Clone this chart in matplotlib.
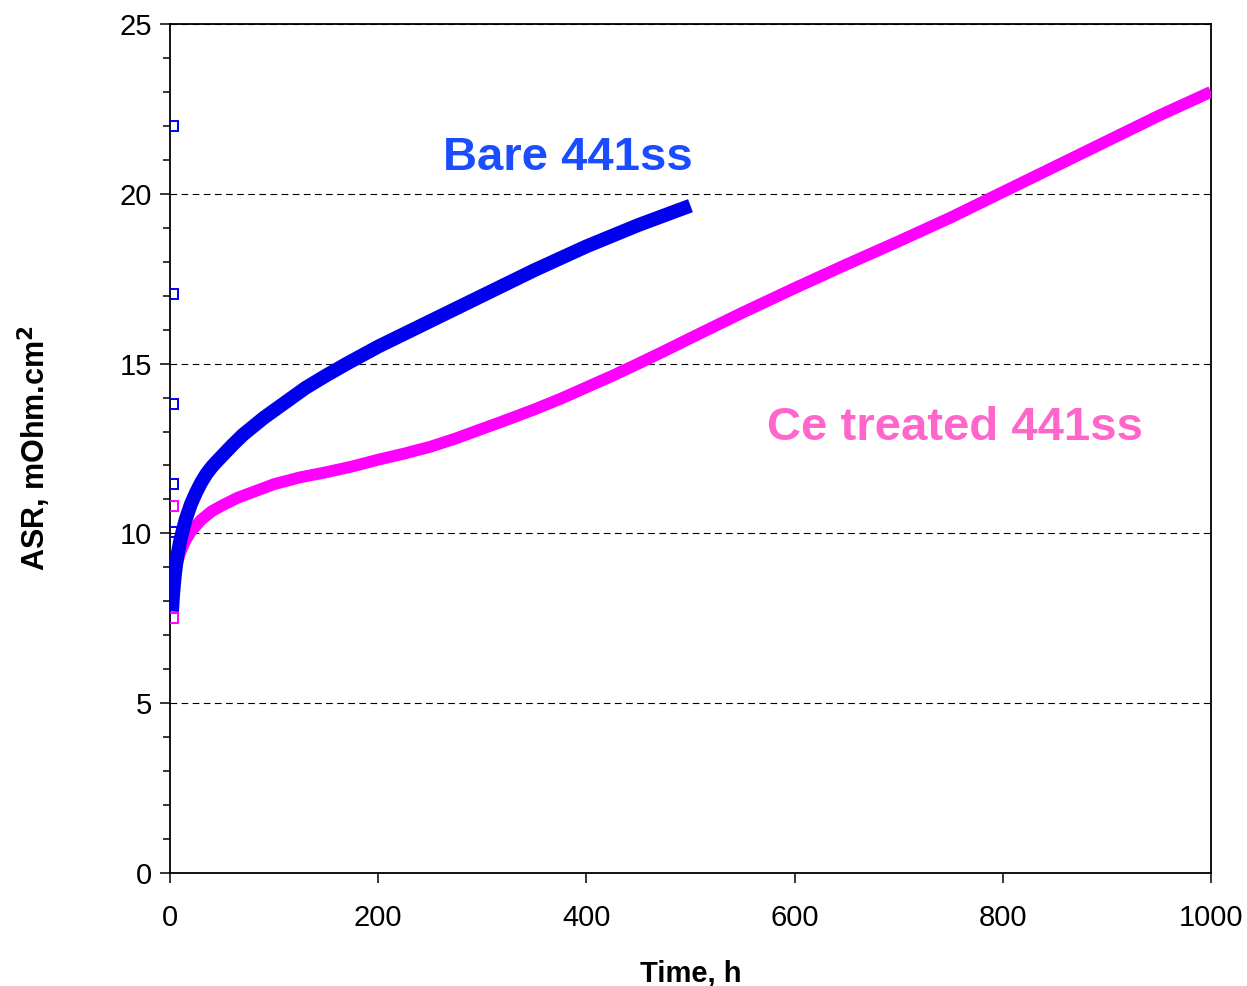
import matplotlib.pyplot as plt
from matplotlib.ticker import MultipleLocator

plt.rcParams['font.family'] = ['Liberation Sans', 'DejaVu Sans']

# Bare 441ss
t_bare = [2, 3, 4, 5, 6, 8, 10, 12, 15, 20, 25, 30, 35, 40, 45, 50, 60, 70,
          80, 90, 100, 115, 130, 150, 170, 200, 250, 300, 350, 400, 450, 500]
asr_bare = [7.7, 8.2, 8.55, 8.85, 9.1, 9.5, 9.8, 10.05, 10.4, 10.85, 11.2,
            11.5, 11.75, 11.95, 12.12, 12.28, 12.6, 12.9, 13.15, 13.4, 13.62,
            13.95, 14.28, 14.65, 15.0, 15.5, 16.25, 17.0, 17.75, 18.45, 19.08,
            19.65]

# Ce treated 441ss
t_ce = [2, 5, 10, 15, 20, 30, 40, 50, 65, 80, 100, 125, 150, 175, 200, 225,
        250, 275, 300, 325, 350, 375, 400, 425, 450, 475, 500, 550, 600, 650,
        700, 750, 800, 850, 900, 950, 1000]
asr_ce = [8.6, 8.95, 9.45, 9.8, 10.05, 10.4, 10.65, 10.82, 11.05, 11.22,
          11.45, 11.65, 11.8, 11.97, 12.17, 12.35, 12.55, 12.8, 13.08, 13.36,
          13.65, 13.96, 14.3, 14.64, 15.0, 15.37, 15.75, 16.5, 17.22, 17.92,
          18.6, 19.3, 20.05, 20.8, 21.55, 22.3, 23.0]

# isolated start points
t_pts_bare = [2.5, 2.5, 2.5, 2.5, 2.5, 2.5]
asr_pts_bare = [22.0, 17.05, 13.8, 11.45, 10.05, 9.1]
t_pts_ce = [2.5, 2.5]
asr_pts_ce = [10.8, 7.5]

fig = plt.figure(figsize=(12.47, 9.86), dpi=100)
ax = fig.add_axes([0.1363, 0.1146, 0.8348, 0.8611])

ax.plot(t_ce, asr_ce, color='#ff00ff', lw=8.5, solid_capstyle='butt',
        solid_joinstyle='round', zorder=3)
ax.plot(t_bare, asr_bare, color='#0000ee', lw=10, solid_capstyle='butt',
        solid_joinstyle='round', zorder=4)
ax.plot(t_pts_bare, asr_pts_bare, 's', mfc='none', mec='#0000ee', ms=6.5, mew=1.4, zorder=5)
ax.plot(t_pts_ce, asr_pts_ce, 's', mfc='none', mec='#ff00ff', ms=6.5, mew=1.4, zorder=5)

ax.text(262, 21.05, 'Bare 441ss', color='#1a4dff', fontsize=34, fontweight='bold',
        ha='left', va='center')
ax.text(574, 13.1, 'Ce treated 441ss', color='#ff66cc', fontsize=34, fontweight='bold',
        ha='left', va='center')

ax.set_xlim(0, 1000)
ax.set_ylim(0, 25)
ax.xaxis.set_major_locator(MultipleLocator(200))
ax.yaxis.set_major_locator(MultipleLocator(5))
ax.yaxis.set_minor_locator(MultipleLocator(1))
ax.tick_params(axis='both', which='major', length=7, width=1.1, labelsize=21)
ax.tick_params(axis='y', which='minor', length=5, width=1.1)
ax.tick_params(axis='y', pad=6)
ax.tick_params(axis='x', pad=15)
ax.grid(axis='y', which='major', color='black', linestyle=(0, (6, 4)), linewidth=0.8)
for s in ax.spines.values():
    s.set_linewidth(1.3)

ax.set_xlabel('Time, h', fontsize=21, fontweight='bold', labelpad=20)
ax.set_ylabel('ASR, mOhm.cm$^\\mathbf{2}$', fontsize=22, fontweight='bold', labelpad=48)

plt.savefig('out.png', dpi=100)
